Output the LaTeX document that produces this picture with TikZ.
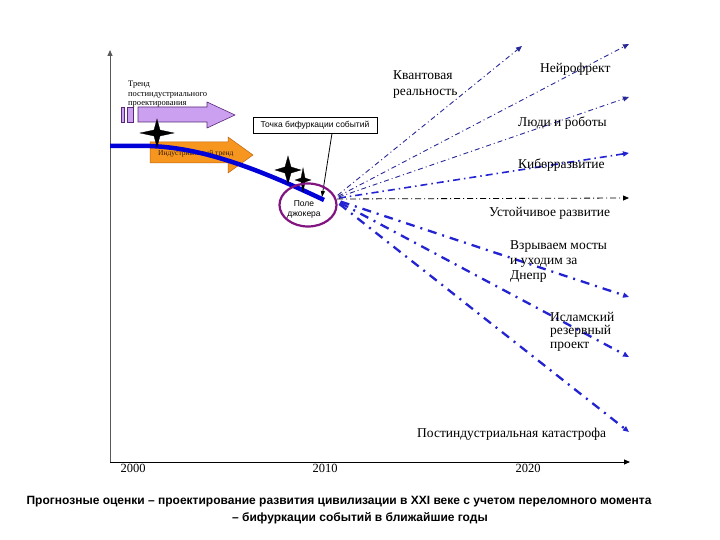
\documentclass[tikz,border=0pt]{standalone}
\usepackage{fontspec}
\setmainfont{Liberation Serif}
\setsansfont{Liberation Sans}
\newfontfamily\capfont{Liberation Sans}
\usetikzlibrary{arrows.meta,calc,shapes.geometric}
\definecolor{navyline}{RGB}{40,40,150}
\definecolor{blueline}{RGB}{35,35,210}
\definecolor{lav}{RGB}{204,160,240}
\definecolor{lavedge}{RGB}{90,40,120}
\definecolor{orng}{RGB}{247,150,30}
\definecolor{orngedge}{RGB}{190,100,20}
\definecolor{jokcol}{RGB}{130,20,130}
\tikzset{
  lbl/.style={font=\fontsize{13.5}{16}\selectfont, align=left, inner sep=0pt},
  yearlbl/.style={font=\fontsize{12.5}{14}\selectfont, inner sep=0pt},
  tip/.style={-{Triangle[length=6pt,width=5pt]}},
  thinfan/.style={tip, navyline, line width=0.9pt, dash pattern=on 5pt off 3pt on 1pt off 3pt},
  midfan/.style={tip, blueline, line width=1.6pt, dash pattern=on 7pt off 4pt on 1.5pt off 4pt},
  thickfan/.style={tip, blueline, line width=2.3pt, dash pattern=on 9pt off 6pt on 2pt off 6pt},
  flatfan/.style={tip, black, line width=0.8pt, dash pattern=on 6pt off 3pt on 1pt off 3pt},
  starshape/.style={fill=black, draw=black, line width=0.3pt},
}
\begin{document}
\begin{tikzpicture}[x=1pt,y=-1pt]
\useasboundingbox[fill=white] (0,0) rectangle (720,540);

% axes
\coordinate (orig) at (110,462);
\coordinate (ytop) at (110,50);
\coordinate (xend) at (630,462);
\draw[gray!70!black, line width=0.8pt, tip] (orig) -- (ytop);
\draw[black, line width=0.8pt, tip] (orig) -- (xend);
\node[yearlbl] (y2000) at (133,468) {2000};
\node[yearlbl] (y2010) at (325,468) {2010};
\node[yearlbl] (y2020) at (528,468) {2020};

% trend text
\node[font=\fontsize{8.5}{9.5}\selectfont, align=left, inner sep=0pt, anchor=north west] (trendtxt) at (128,81)
  {Тренд\\постиндустриального\\проектирования};

% purple arrow
\filldraw[fill=lav, draw=lavedge, line width=0.6pt]
  (138,107) -- (207,107) -- (207,102) -- (235,115) -- (207,128) -- (207,122) -- (138,122) -- cycle;
\filldraw[fill=lav, draw=lavedge, line width=0.6pt] (121,107) rectangle (124,122);
\filldraw[fill=lav, draw=lavedge, line width=0.6pt] (127,107) rectangle (133,122);

% orange arrow
\filldraw[fill=orng, draw=orngedge, line width=0.5pt]
  (150,142) -- (228,142) -- (228,137) -- (253,155) -- (228,173) -- (228,163) -- (150,163) -- cycle;
\node[font=\fontsize{7.5}{8}\selectfont, text=black!80!orange, inner sep=0pt, anchor=west] (orngtxt) at (158,154) {Индустриальный тренд};

% blue main line
\draw[blue!85!black, line width=4.5pt] (110,146) -- (150,146) .. controls (200,148) and (250,165) .. (324,200);

% stars
\filldraw[starshape] (157,119) -- (160,130) -- (174,133) -- (160,136) -- (157,147) -- (154,136) -- (140,133) -- (154,130) -- cycle;
\filldraw[starshape] (288,156) -- (291,167) -- (301,170) -- (291,173) -- (288,184) -- (285,173) -- (275,170) -- (285,167) -- cycle;
\filldraw[starshape] (303,168) -- (305,178) -- (311,180) -- (305,182) -- (303,192) -- (301,182) -- (295,180) -- (301,178) -- cycle;

% bifurcation box
\node[draw=black, line width=0.6pt, fill=white, font=\sffamily\fontsize{8.5}{10}\selectfont, minimum width=124pt, minimum height=16pt, inner sep=1pt] (box) at (315,125) {Точка бифуркации событий};
\coordinate (boxout) at ($(box.south)+(17,0)$);
\coordinate (bifpt) at (322,197);
\draw[black, line width=0.8pt, -{Triangle[length=6pt,width=4pt]}] (boxout) -- (bifpt);

% joker ellipse
\node[ellipse, draw=jokcol, line width=2.2pt, minimum width=57pt, minimum height=43pt] (jok) at (308,205) {};
\node[font=\sffamily\fontsize{8.5}{10}\selectfont, align=center, inner sep=0pt] (joktxt) at (304,209) {Поле\\джокера};

% fan of scenarios
\coordinate (O) at (333,199);
\coordinate (e1) at (522,46);
\coordinate (e2) at (629,44);
\coordinate (e3) at (629,97);
\coordinate (e4) at (629,153);
\coordinate (e5) at (629,198);
\coordinate (e6) at (629,297);
\coordinate (e7) at (629,357);
\coordinate (e8) at (629,432);
\draw[thinfan] ($(O)!6pt!(e1)$) -- (e1);
\draw[thinfan] ($(O)!6pt!(e2)$) -- (e2);
\draw[thinfan] ($(O)!6pt!(e3)$) -- (e3);
\draw[midfan] ($(O)!6pt!(e4)$) -- (e4);
\draw[flatfan] ($(O)!4pt!(e5)$) -- (e5);
\draw[thickfan] ($(O)!8pt!(e6)$) -- (e6);
\draw[thickfan] ($(O)!8pt!(e7)$) -- (e7);
\draw[thickfan] ($(O)!8pt!(e8)$) -- (e8);

% scenario labels
\node[lbl, anchor=north west] (l1) at (393,70) {Квантовая\\реальность};
\node[lbl, anchor=west] (l2) at (540,69) {Нейрофрект};
\node[lbl, anchor=west] (l3) at (518,123) {Люди и роботы};
\node[lbl, anchor=west] (l4) at (518,165) {Киберразвитие};
\node[lbl, anchor=west] (l5) at (489,213) {Устойчивое развитие};
\node[lbl, anchor=north west, font=\fontsize{13.5}{15}\selectfont] (l6) at (510,240) {Взрываем мосты\\и уходим за\\Днепр};
\node[lbl, anchor=north west, font=\fontsize{13.5}{13.5}\selectfont] (l7) at (550,312) {Исламский\\резервный\\проект};
\node[lbl, anchor=west] (l8) at (417,434) {Постиндустриальная катастрофа};

% caption
\node[font=\capfont\bfseries\fontsize{12}{16}\selectfont, align=center, inner sep=0pt] (cap1) at (339,502)
  {Прогнозные оценки – проектирование развития цивилизации в XXI веке с учетом переломного момента};
\node[font=\capfont\bfseries\fontsize{12}{16}\selectfont, anchor=west, inner sep=0pt] (cap2) at (232,518)
  {– бифуркации событий в ближайшие годы};
\end{tikzpicture}
\end{document}
